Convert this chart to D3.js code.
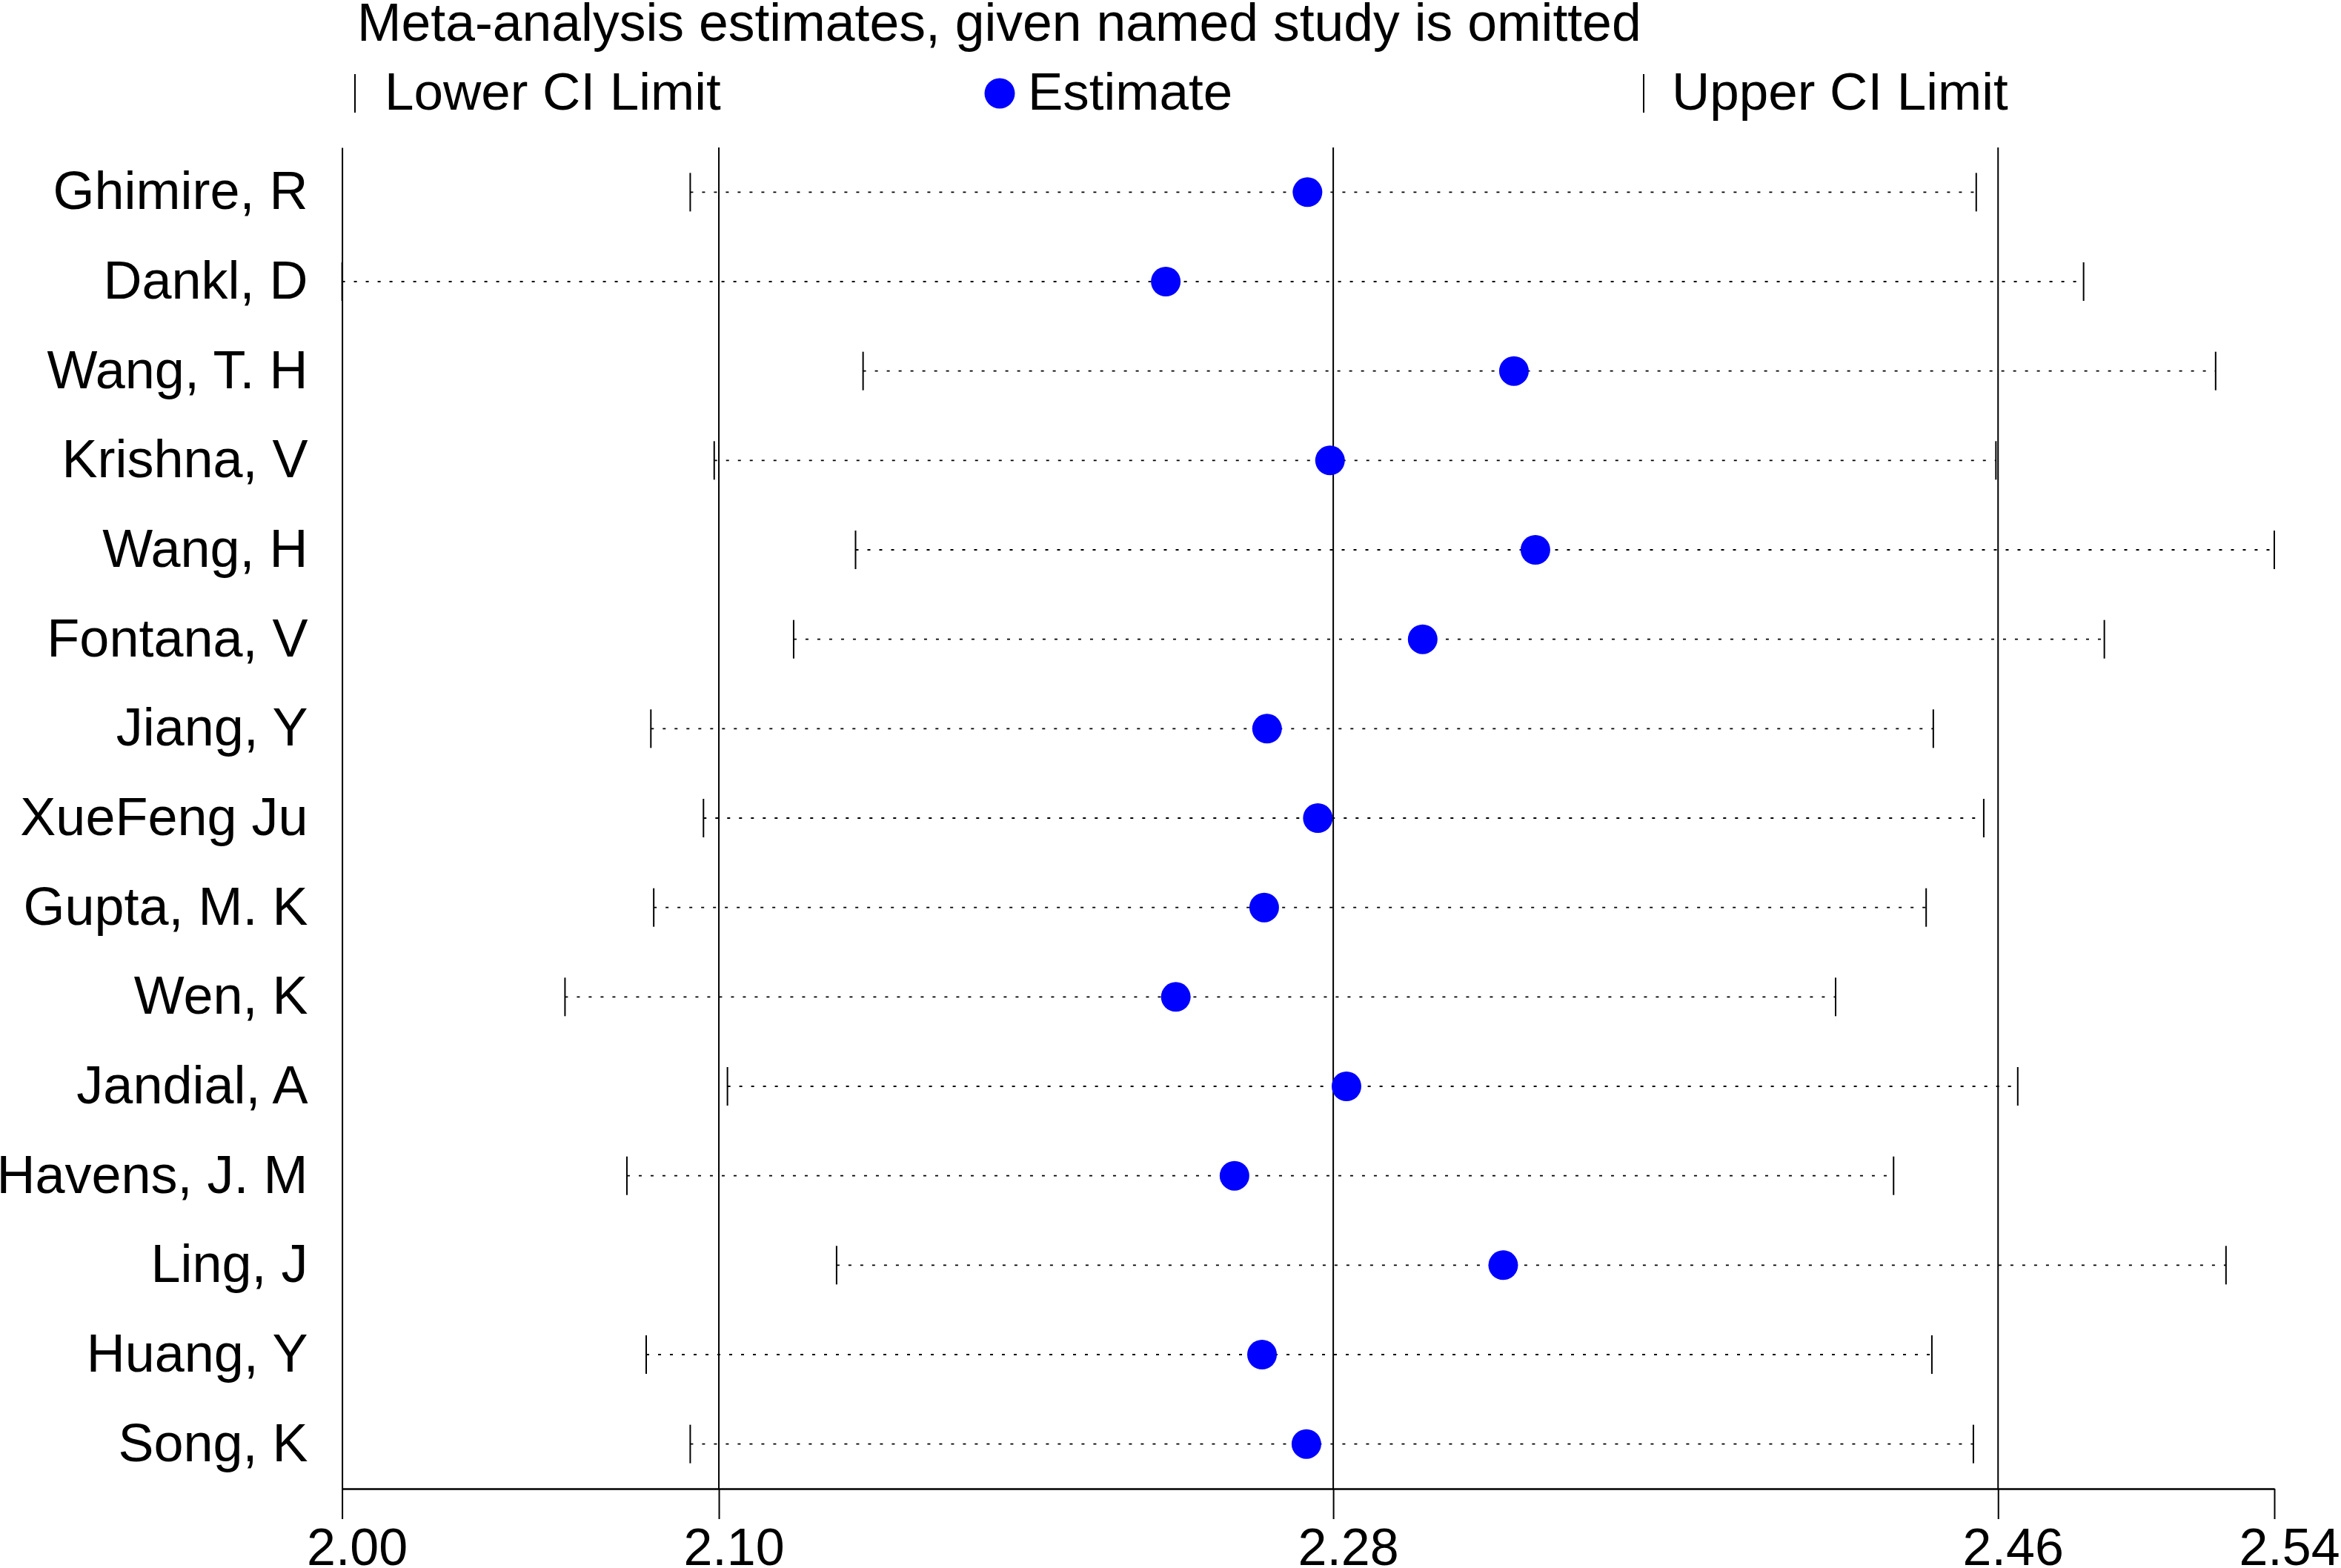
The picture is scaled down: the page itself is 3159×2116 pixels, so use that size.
<!DOCTYPE html>
<html>
<head>
<meta charset="utf-8">
<script src="https://cdn.jsdelivr.net/npm/d3@7"></script>
<style>
  body { margin: 0; background: #fff; }
  text { font-family: "Liberation Sans", Arial, sans-serif; fill: #000; }
</style>
</head>
<body>
<div id="chart"></div>
<script>
// Dimensions
const width = 3159;
const height = 2116;
const margin = { top: 199, right: 90, bottom: 107, left: 461.6 };

// Data: meta-analysis estimate with the named study omitted
const studies = [
  "Ghimire, R", "Dankl, D", "Wang, T. H", "Krishna, V", "Wang, H",
  "Fontana, V", "Jiang, Y", "XueFeng Ju", "Gupta, M. K", "Wen, K",
  "Jandial, A", "Havens, J. M", "Ling, J", "Huang, Y", "Song, K"
];
const lowerCI = [
  2.0973, 2.0000, 2.1456, 2.1040, 2.1435,
  2.1262, 2.0863, 2.1010, 2.0871, 2.0623,
  2.1077, 2.0796, 2.1382, 2.0850, 2.0973
];
const estimates = [
  2.2698, 2.2302, 2.3275, 2.2761, 2.3335,
  2.3020, 2.2585, 2.2727, 2.2577, 2.2330,
  2.2807, 2.2494, 2.3245, 2.2571, 2.2695
];
const upperCI = [
  2.4567, 2.4867, 2.5236, 2.4622, 2.5400,
  2.4925, 2.4447, 2.4588, 2.4427, 2.4174,
  2.4683, 2.4336, 2.5265, 2.4443, 2.4559
];

// Overall estimate and its CI (reference lines), axis ticks
const overallLines = [2.1053, 2.2770, 2.4628];
const tickValues = [2.00, 2.1053, 2.2770, 2.4628, 2.54];
const tickLabels = ["2.00", "2.10", "2.28", "2.46", "2.54"];

const rows = studies.map((s, i) => ({
  study: s,
  lower: lowerCI[i],
  est: estimates[i],
  upper: upperCI[i]
}));

const svg = d3
  .select("#chart")
  .append("svg")
  .attr("width", width)
  .attr("height", height);

// Scales
const x = d3
  .scaleLinear()
  .domain([tickValues[0], tickValues[tickValues.length - 1]])
  .range([margin.left, width - margin.right]);

const y = d3
  .scaleBand()
  .domain(studies)
  .range([margin.top, height - margin.bottom]);

const yc = d => y(d) + y.bandwidth() / 2;

// Title and legend
svg
  .append("text")
  .attr("x", 482)
  .attr("y", 55)
  .attr("font-size", "71.5px")
  .text("Meta-analysis estimates, given named study is omitted");

const legendY = 148;
const legend = svg.append("g");

legend
  .append("line")
  .attr("x1", 479)
  .attr("x2", 479)
  .attr("y1", legendY - 48)
  .attr("y2", legendY + 4)
  .attr("stroke", "#000")
  .attr("stroke-width", 2);

legend
  .append("text")
  .attr("x", 519)
  .attr("y", legendY)
  .attr("font-size", "71px")
  .text("Lower CI Limit");

legend
  .append("circle")
  .attr("cx", 1349)
  .attr("cy", legendY - 22)
  .attr("r", 20.5)
  .attr("fill", "#0000ff");

legend
  .append("text")
  .attr("x", 1387)
  .attr("y", legendY)
  .attr("font-size", "71px")
  .text("Estimate");

legend
  .append("line")
  .attr("x1", 2218)
  .attr("x2", 2218)
  .attr("y1", legendY - 48)
  .attr("y2", legendY + 4)
  .attr("stroke", "#000")
  .attr("stroke-width", 2);

legend
  .append("text")
  .attr("x", 2256)
  .attr("y", legendY)
  .attr("font-size", "71px")
  .text("Upper CI Limit");

// Reference lines at overall estimate and CI
svg
  .selectAll(".ref")
  .data(overallLines)
  .join("line")
  .attr("class", "ref")
  .attr("x1", d => x(d))
  .attr("x2", d => x(d))
  .attr("y1", margin.top)
  .attr("y2", height - margin.bottom)
  .attr("stroke", "#000")
  .attr("stroke-width", 2);

// Axes
const xAxis = d3
  .axisBottom(x)
  .tickValues(tickValues)
  .tickFormat((d, i) => tickLabels[i])
  .tickSize(41)
  .tickSizeOuter(0)
  .tickPadding(12);

const gx = svg
  .append("g")
  .attr("transform", `translate(0,${height - margin.bottom})`)
  .call(xAxis);

gx.select(".domain").attr("stroke-width", 2.5);
gx.selectAll(".tick line").attr("stroke-width", 2);
gx.selectAll(".tick text")
  .attr("font-size", "70px")
  .attr("font-family", "Liberation Sans, Arial, sans-serif")
  .attr("dx", 20);

const yAxis = d3.axisLeft(y).tickSize(0).tickSizeOuter(0).tickPadding(46);

const gy = svg
  .append("g")
  .attr("transform", `translate(${margin.left},0)`)
  .call(yAxis);

gy.select(".domain").attr("stroke-width", 2);
gy.selectAll(".tick text")
  .attr("font-size", "72px")
  .attr("font-family", "Liberation Sans, Arial, sans-serif");

// Dotted CI lines
svg
  .selectAll(".ci")
  .data(rows)
  .join("line")
  .attr("class", "ci")
  .attr("x1", d => x(d.lower))
  .attr("x2", d => x(d.upper))
  .attr("y1", d => yc(d.study))
  .attr("y2", d => yc(d.study))
  .attr("stroke", "#000")
  .attr("stroke-width", 1.8)
  .attr("stroke-dasharray", "4,12");

// CI limit ticks
["lower", "upper"].forEach(k => {
  svg
    .selectAll(".tick-" + k)
    .data(rows)
    .join("line")
    .attr("class", "tick-" + k)
    .attr("x1", d => x(d[k]))
    .attr("x2", d => x(d[k]))
    .attr("y1", d => yc(d.study) - 26)
    .attr("y2", d => yc(d.study) + 26)
    .attr("stroke", "#000")
    .attr("stroke-width", 2);
});

// Estimates
svg
  .selectAll(".est")
  .data(rows)
  .join("circle")
  .attr("class", "est")
  .attr("cx", d => x(d.est))
  .attr("cy", d => yc(d.study))
  .attr("r", 20)
  .attr("fill", "#0000ff");
</script>
</body>
</html>
